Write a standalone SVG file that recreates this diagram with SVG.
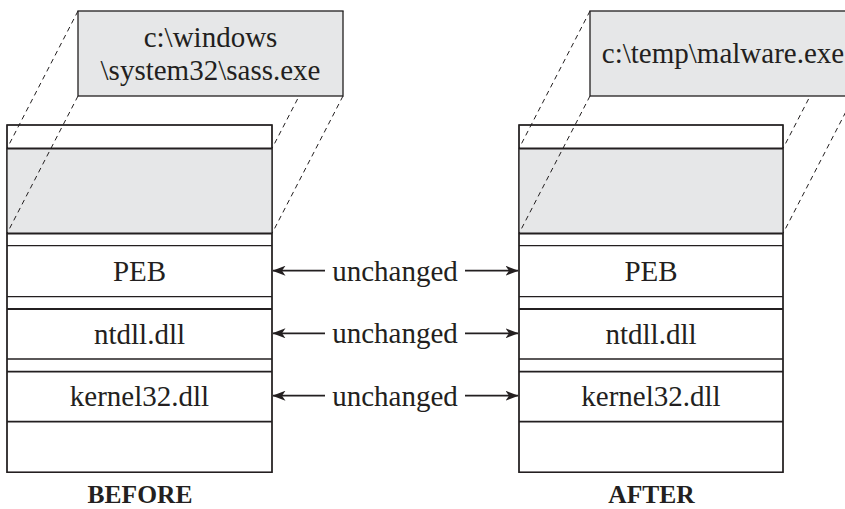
<svg xmlns="http://www.w3.org/2000/svg" width="845" height="509" viewBox="0 0 845 509">
<defs>
<style>
.dash{stroke:#231f20;stroke-width:1;stroke-dasharray:5 4;fill:none}
.box{fill:#e6e7e8;stroke:#231f20;stroke-width:1.3}
.outer{fill:#fff;stroke:#231f20;stroke-width:1.3}
.gray{fill:#e6e7e8}
.hl{stroke:#231f20;stroke-width:1.8}
.ht{stroke:#231f20;stroke-width:1.3}
.t{font-family:"Liberation Serif","Times New Roman",serif;font-size:29px;fill:#231f20;text-anchor:middle}
.lbl{font-family:"Liberation Serif","Times New Roman",serif;font-size:25.5px;font-weight:bold;fill:#231f20;text-anchor:middle}
.arr{stroke:#231f20;stroke-width:1.8;fill:none}
</style>
<marker id="ah" viewBox="0 0 13 10" refX="12.5" refY="5" markerWidth="13" markerHeight="10" markerUnits="userSpaceOnUse" orient="auto-start-reverse">
<path d="M0,0 L13,5 L0,10 L3.5,5 Z" fill="#231f20"/>
</marker>
</defs>

<g id="before-stack">
<rect class="outer" x="7" y="125" width="265" height="347.3"/>
<rect class="gray" x="7" y="148.5" width="265" height="85"/>
<line class="hl" x1="7" y1="148.5" x2="272" y2="148.5"/>
<line class="hl" x1="7" y1="233.5" x2="272" y2="233.5"/>
<line class="ht" x1="7" y1="245.7" x2="272" y2="245.7"/>
<line class="ht" x1="7" y1="296.7" x2="272" y2="296.7"/>
<line class="hl" x1="7" y1="309" x2="272" y2="309"/>
<line class="ht" x1="7" y1="359" x2="272" y2="359"/>
<line class="hl" x1="7" y1="371.7" x2="272" y2="371.7"/>
<line class="hl" x1="7" y1="421.7" x2="272" y2="421.7"/>
<rect x="7" y="125" width="265" height="347.3" fill="none" stroke="#231f20" stroke-width="1.3"/>
<text class="t" x="139.5" y="281">PEB</text>
<text class="t" x="139.5" y="343.5">ntdll.dll</text>
<text class="t" x="139.5" y="406">kernel32.dll</text>
<text class="lbl" x="140" y="503">BEFORE</text>
</g>

<g id="after-stack">
<rect class="outer" x="519" y="125" width="264" height="347.3"/>
<rect class="gray" x="519" y="148.5" width="264" height="85"/>
<line class="hl" x1="519" y1="148.5" x2="783" y2="148.5"/>
<line class="hl" x1="519" y1="233.5" x2="783" y2="233.5"/>
<line class="ht" x1="519" y1="245.7" x2="783" y2="245.7"/>
<line class="ht" x1="519" y1="296.7" x2="783" y2="296.7"/>
<line class="hl" x1="519" y1="309" x2="783" y2="309"/>
<line class="ht" x1="519" y1="359" x2="783" y2="359"/>
<line class="hl" x1="519" y1="371.7" x2="783" y2="371.7"/>
<line class="hl" x1="519" y1="421.7" x2="783" y2="421.7"/>
<rect x="519" y="125" width="264" height="347.3" fill="none" stroke="#231f20" stroke-width="1.3"/>
<text class="t" x="651" y="281">PEB</text>
<text class="t" x="651" y="343.5">ntdll.dll</text>
<text class="t" x="651" y="406">kernel32.dll</text>
<text class="lbl" x="651.5" y="503">AFTER</text>
</g>

<g id="connectors">
<line class="dash" x1="78" y1="11" x2="7" y2="148.5"/>
<line class="dash" x1="78" y1="96" x2="7" y2="233.5"/>
<line class="dash" x1="343" y1="11" x2="272" y2="148.5"/>
<line class="dash" x1="343" y1="96" x2="272" y2="233.5"/>
<line class="dash" x1="590" y1="11" x2="519" y2="148.5"/>
<line class="dash" x1="590" y1="96" x2="519" y2="233.5"/>
<line class="dash" x1="854" y1="11" x2="783" y2="148.5"/>
<line class="dash" x1="854" y1="96" x2="783" y2="233.5"/>

<line class="arr" x1="325" y1="270.7" x2="273" y2="270.7" marker-end="url(#ah)"/>
<line class="arr" x1="465" y1="270.7" x2="518" y2="270.7" marker-end="url(#ah)"/>
<line class="arr" x1="325" y1="333.3" x2="273" y2="333.3" marker-end="url(#ah)"/>
<line class="arr" x1="465" y1="333.3" x2="518" y2="333.3" marker-end="url(#ah)"/>
<line class="arr" x1="325" y1="395.7" x2="273" y2="395.7" marker-end="url(#ah)"/>
<line class="arr" x1="465" y1="395.7" x2="518" y2="395.7" marker-end="url(#ah)"/>
<text class="t" x="395" y="280.5">unchanged</text>
<text class="t" x="395" y="343">unchanged</text>
<text class="t" x="395" y="405.5">unchanged</text>
</g>

<g id="before-image">
<rect class="box" x="78" y="11" width="265" height="85"/>
<text class="t" x="210.5" y="47">c:\windows</text>
<text class="t" x="210.5" y="80">\system32\sass.exe</text>
</g>

<g id="after-image">
<rect class="box" x="590" y="11" width="264" height="85"/>
<text class="t" x="723" y="63">c:\temp\malware.exe</text>
</g>
</svg>
